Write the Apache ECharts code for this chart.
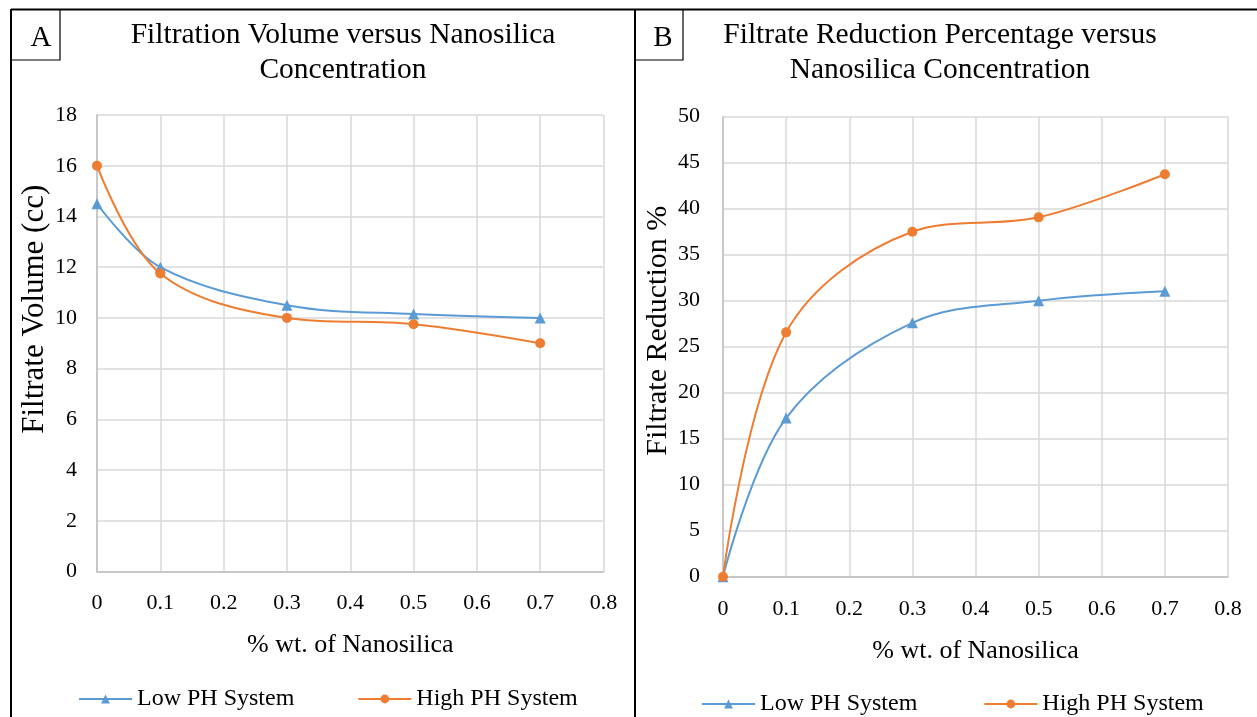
<!DOCTYPE html>
<html>
<head>
<meta charset="utf-8">
<script src="https://cdn.jsdelivr.net/npm/echarts@6/dist/echarts.min.js"></script>
<style>
html,body{margin:0;padding:0;background:#fff;}
#chart{width:1257px;height:717px;}
</style>
</head>
<body>
<div id="chart"></div>
<script>
// ---- data ----
const xValues = [0, 0.1, 0.3, 0.5, 0.7];
const xTickLabels = ['0', '0.1', '0.2', '0.3', '0.4', '0.5', '0.6', '0.7', '0.8'];
const volumeLowPH = [14.5, 12, 10.5, 10.15, 10];
const volumeHighPH = [16, 11.75, 10, 9.75, 9];
const reductionLowPH = [0, 17.24, 27.59, 30, 31.03];
const reductionHighPH = [0, 26.56, 37.5, 39.06, 43.75];
const seriesNames = ['Low PH System', 'High PH System'];
const titleA = 'Filtration Volume versus Nanosilica\nConcentration';
const titleB = 'Filtrate Reduction Percentage versus\nNanosilica Concentration';
const xAxisName = '% wt. of Nanosilica';
const yNameA = 'Filtrate Volume (cc)';
const yNameB = 'Filtrate Reduction %';

const FONT = "'Liberation Serif', 'Times New Roman', serif";
const BLUE = '#5b9bd5';
const ORANGE = '#ed7d31';
const pairs = (xs, ys) => xs.map((x, i) => [x, ys[i]]);

function xAxisCfg(gridIndex, gap, margin) {
  return {
    gridIndex, type: 'value', min: 0, max: 0.8, interval: 0.1,
    name: xAxisName, nameLocation: 'middle', nameGap: gap,
    nameTextStyle: {fontFamily: FONT, fontSize: 26, color: '#000'},
    axisLine: {show: true, lineStyle: {color: '#bfbfbf', width: 1.5}},
    axisTick: {show: false},
    axisLabel: {fontFamily: FONT, fontSize: 22, color: '#000', margin,
      formatter: v => xTickLabels[Math.round(v * 10)]},
    splitLine: {show: true, lineStyle: {color: '#d9d9d9', width: 1.5}}
  };
}
function yAxisCfg(gridIndex, max, interval, name, gap, shift, margin, nameSize) {
  return {
    gridIndex, type: 'value', min: 0, max, interval,
    name, nameLocation: 'middle', nameGap: gap, nameRotate: 90,
    nameTextStyle: {fontFamily: FONT, fontSize: nameSize, color: '#000', padding: [0, 0, 0, shift]},
    axisLine: {show: true, lineStyle: {color: '#bfbfbf', width: 1.5}},
    axisTick: {show: false},
    axisLabel: {fontFamily: FONT, fontSize: 22, color: '#000', margin},
    splitLine: {show: true, lineStyle: {color: '#d9d9d9', width: 1.5}}
  };
}
function lineSeries(name, color, symbol, size, xi, data) {
  return {
    name, type: 'line', xAxisIndex: xi, yAxisIndex: xi,
    data, smooth: 0.35, symbol, symbolSize: size, showSymbol: true,
    lineStyle: {color, width: 2}, itemStyle: {color},
    emphasis: {disabled: true}
  };
}

const chart = echarts.init(document.getElementById('chart'), null, {renderer: 'canvas'});
chart.setOption({
  animation: false,
  backgroundColor: '#fff',
  title: [
    {text: titleA, left: 338, top: 13, textAlign: 'center',
     textStyle: {fontFamily: FONT, fontSize: 29.5, fontWeight: 'normal', color: '#000', lineHeight: 35}},
    {text: titleB, left: 935, top: 13, textAlign: 'center',
     textStyle: {fontFamily: FONT, fontSize: 29.5, fontWeight: 'normal', color: '#000', lineHeight: 35}}
  ],
  legend: [
    {left: 73, top: 682, itemWidth: 53, itemHeight: 11, itemGap: 63, data: seriesNames,
     textStyle: {fontFamily: FONT, fontSize: 24, color: '#000'}},
    {left: 696, top: 687, itemWidth: 53, itemHeight: 11, itemGap: 66, data: seriesNames,
     textStyle: {fontFamily: FONT, fontSize: 24, color: '#000'}}
  ],
  grid: [
    {left: 97, right: 653.5, top: 115, bottom: 145.5},
    {left: 723, right: 29, top: 116.7, bottom: 140.3}
  ],
  xAxis: [xAxisCfg(0, 61, 21), xAxisCfg(1, 61, 22)],
  yAxis: [
    yAxisCfg(0, 18, 2, yNameA, 47, 68, 20, 31),
    yAxisCfg(1, 50, 5, yNameB, 50, 32, 23, 30)
  ],
  series: [
    lineSeries(seriesNames[0], BLUE, 'triangle', 11, 0, pairs(xValues, volumeLowPH)),
    lineSeries(seriesNames[1], ORANGE, 'circle', 10, 0, pairs(xValues, volumeHighPH)),
    lineSeries(seriesNames[0], BLUE, 'triangle', 11, 1, pairs(xValues, reductionLowPH)),
    lineSeries(seriesNames[1], ORANGE, 'circle', 10, 1, pairs(xValues, reductionHighPH))
  ],
  graphic: [
    // outer frame and divider
    {type: 'line', shape: {x1: 11, y1: 9.5, x2: 1257, y2: 9.5}, style: {stroke: '#000', lineWidth: 2}},
    {type: 'line', shape: {x1: 11, y1: 9, x2: 11, y2: 717}, style: {stroke: '#000', lineWidth: 2}},
    {type: 'line', shape: {x1: 635, y1: 9, x2: 635, y2: 717}, style: {stroke: '#000', lineWidth: 2}},
    // label boxes
    {type: 'rect', shape: {x: 11, y: 9.5, width: 49, height: 50.5}, style: {fill: 'none', stroke: '#000', lineWidth: 1.2}},
    {type: 'rect', shape: {x: 635, y: 9.5, width: 48, height: 50.5}, style: {fill: 'none', stroke: '#000', lineWidth: 1.2}},
    {type: 'text', x: 41, y: 38, style: {text: 'A', fontFamily: FONT, fontSize: 29, fill: '#000', align: 'center', verticalAlign: 'middle'}},
    {type: 'text', x: 663, y: 38, style: {text: 'B', fontFamily: FONT, fontSize: 29, fill: '#000', align: 'center', verticalAlign: 'middle'}}
  ]
});
</script>
</body>
</html>
